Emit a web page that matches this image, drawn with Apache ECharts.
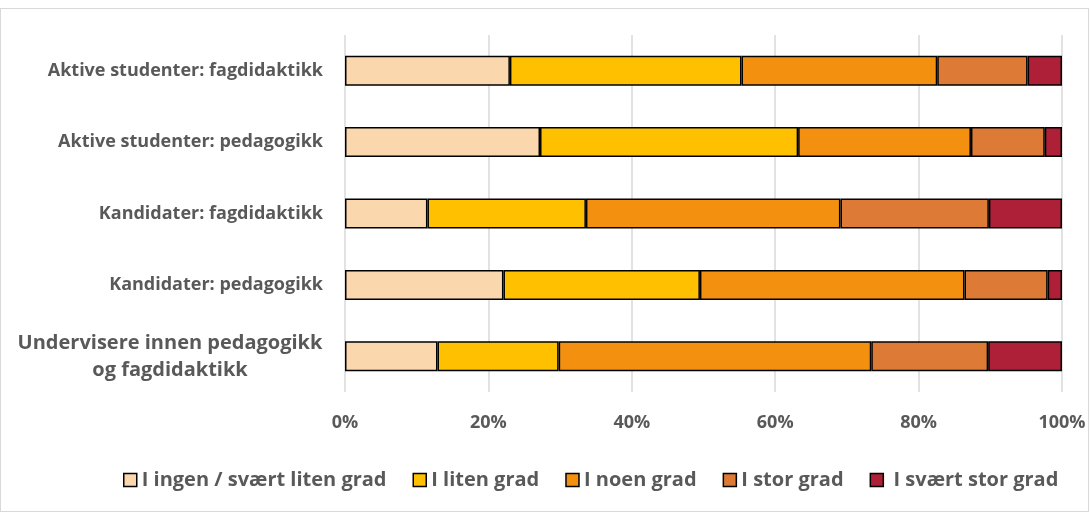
<!DOCTYPE html>
<html>
<head>
<meta charset="utf-8">
<script src="https://cdn.jsdelivr.net/npm/echarts@6/dist/echarts.min.js"></script>
<style>
html,body{margin:0;padding:0;background:#fff;}
#frame{position:absolute;left:0;top:8px;width:1089px;height:504px;border:1px solid #d9d9d9;box-sizing:border-box;}
#c{position:absolute;left:0;top:0;width:1092px;height:515px;}
</style>
</head>
<body>
<div id="frame"></div>
<div id="c"></div>
<script>
const categories = [
  "Aktive studenter: fagdidaktikk",
  "Aktive studenter: pedagogikk",
  "Kandidater: fagdidaktikk",
  "Kandidater: pedagogikk",
  "Undervisere innen pedagogikk\nog fagdidaktikk"
];
const seriesNames = ["I ingen / svært liten grad", "I liten grad", "I noen grad", "I stor grad", "I svært stor grad"];
const ingen = [23.0, 27.2, 11.5, 22.1, 12.9];
const liten = [32.3, 36.0, 22.1, 27.4, 16.9];
const noen = [27.3, 24.1, 35.5, 36.9, 43.6];
const stor = [12.6, 10.3, 20.7, 11.6, 16.3];
const sværtStor = [4.8, 2.4, 10.2, 2.0, 10.3];
const xTicks = [0, 20, 40, 60, 80, 100];
const colors = ["#FAD7AC", "#FFC000", "#F39010", "#DC7A36", "#AE1F38"];
const values = [ingen, liten, noen, stor, sværtStor];

const font = "'Open Sans', sans-serif";
const chart = echarts.init(document.getElementById('c'));
chart.setOption({
  animation: false,
  grid: {left: 345, right: 30, top: 35, bottom: 123, containLabel: false},
  legend: {
    data: seriesNames,
    left: 118, top: 465,
    itemWidth: 13, itemHeight: 13, itemGap: 26,
    icon: 'rect',
    itemStyle: {borderColor: '#000', borderWidth: 1.5},
    formatter: n => n === seriesNames[seriesNames.length - 1] ? ' ' + n : n,
    textStyle: {color: '#595959', fontWeight: 'bold', fontSize: 20, fontFamily: font}
  },
  xAxis: {
    type: 'value', min: 0, max: 100, interval: 20,
    axisLine: {show: false}, axisTick: {show: false},
    splitLine: {show: true, lineStyle: {color: '#d9d9d9', width: 1.5}},
    axisLabel: {formatter: v => xTicks.includes(v) ? v + '%' : '', color: '#595959', fontWeight: 'bold', fontSize: 18, fontFamily: font, margin: 22}
  },
  yAxis: {
    type: 'category', data: categories, inverse: true,
    axisLine: {show: false}, axisTick: {show: false},
    axisLabel: {
      color: '#595959', fontWeight: 'bold', fontSize: 18, fontFamily: font, margin: 22, lineHeight: 27,
      formatter: function (v) {
        if (v.indexOf('\n') >= 0) {
          const parts = v.split('\n');
          return '{c|' + parts[0] + '}\n{c|' + parts[1] + '}';
        }
        return v;
      },
      rich: {c: {width: 306, align: 'center', color: '#595959', fontWeight: 'bold', fontSize: 20, fontFamily: font, lineHeight: 27}}
    }
  },
  series: seriesNames.map((n, i) => ({
    name: n, type: 'bar', stack: 'total', barWidth: 30,
    data: values[i],
    itemStyle: {color: colors[i], borderColor: '#000', borderWidth: 1.5}
  }))
});
</script>
</body>
</html>
